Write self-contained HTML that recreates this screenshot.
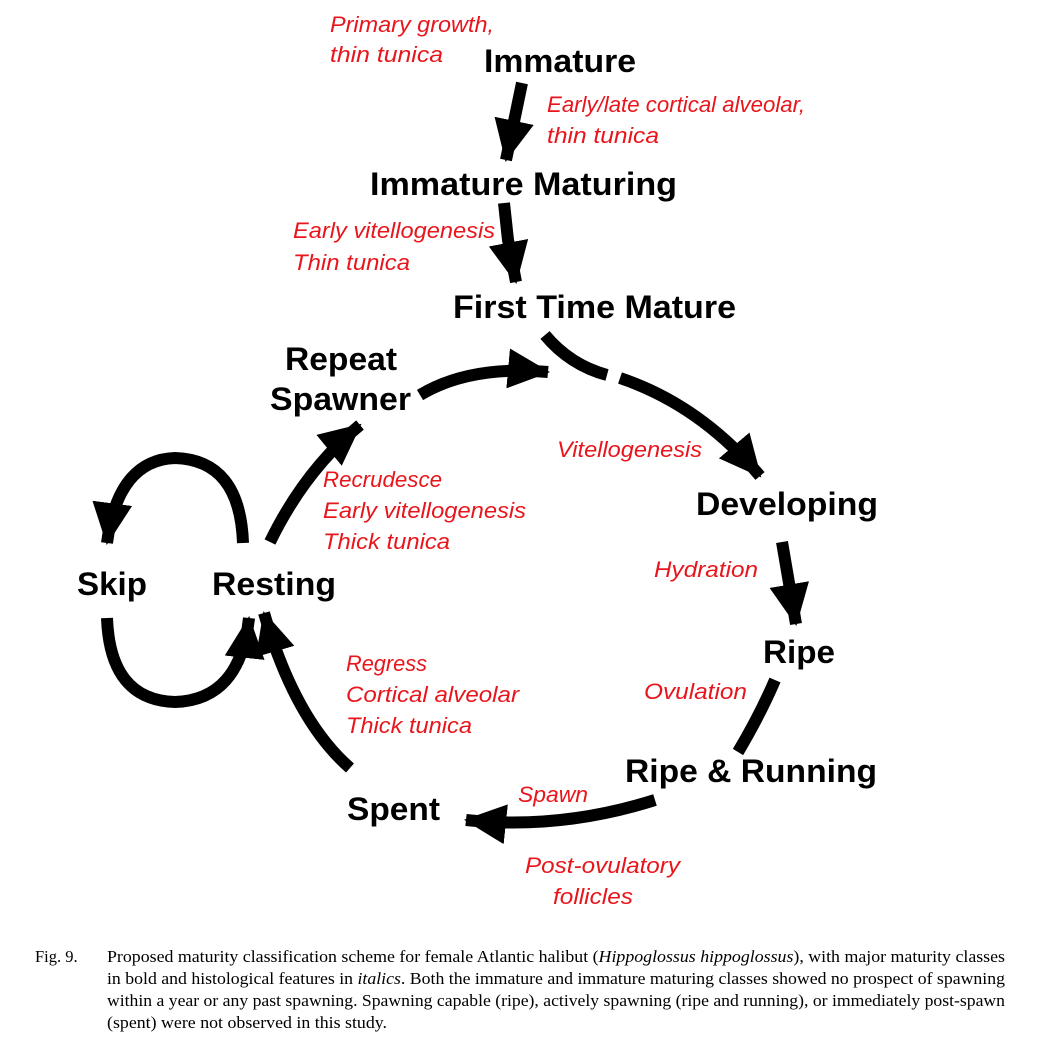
<!DOCTYPE html>
<html><head><meta charset="utf-8"><style>
html,body{margin:0;padding:0;background:#fff;}
svg{display:block;}
.b{font-family:"Liberation Sans",Arial,sans-serif;font-weight:bold;font-size:32px;fill:#000;}
.r{font-family:"Liberation Sans",Arial,sans-serif;font-style:italic;font-size:22px;fill:#e8161c;}
.c{font-family:"Liberation Serif","Times New Roman",serif;font-size:16.5px;fill:#000;}
.a{fill:none;stroke:#000;stroke-width:12;}
</style></head><body>
<svg width="1039" height="1048" viewBox="0 0 1039 1048" xmlns="http://www.w3.org/2000/svg">
<defs>
<marker id="h" markerUnits="userSpaceOnUse" viewBox="0 0 42 40" markerWidth="42" markerHeight="40" refX="40" refY="20" orient="auto">
<path d="M0,0 L42,20 L0,40 Z" fill="#000"/>
</marker>
</defs>
<path class="a" d="M522,83 L506,160" marker-end="url(#h)"/>
<path class="a" d="M504,203 L508,240 L516,282" marker-end="url(#h)"/>
<path class="a" d="M545,335 Q570,365 607,375"/>
<path class="a" d="M620,378 Q700,405 760,476" marker-end="url(#h)"/>
<path class="a" d="M782,542 L796,624" marker-end="url(#h)"/>
<path class="a" d="M775,680 Q760,715 738,752"/>
<path class="a" d="M655,800 Q560,830 466,820" marker-end="url(#h)"/>
<path class="a" d="M350,768 Q295,720 264,613" marker-end="url(#h)"/>
<path class="a" d="M270,542 Q305,470 360,425" marker-end="url(#h)"/>
<path class="a" d="M420,395 Q470,365 548,372" marker-end="url(#h)"/>
<path class="a" d="M243,543 Q240,460 175,458 Q118,460 107,543" marker-end="url(#h)"/>
<path class="a" d="M107,618 Q110,700 175,702 Q240,700 249,618" marker-end="url(#h)"/>
<text class="b" x="484" y="72" textLength="152" lengthAdjust="spacingAndGlyphs">Immature</text>
<text class="b" x="370" y="195" textLength="307" lengthAdjust="spacingAndGlyphs">Immature Maturing</text>
<text class="b" x="453" y="318" textLength="283" lengthAdjust="spacingAndGlyphs">First Time Mature</text>
<text class="b" x="285" y="370" textLength="112" lengthAdjust="spacingAndGlyphs">Repeat</text>
<text class="b" x="270" y="410" textLength="141" lengthAdjust="spacingAndGlyphs">Spawner</text>
<text class="b" x="696" y="515" textLength="182" lengthAdjust="spacingAndGlyphs">Developing</text>
<text class="b" x="77" y="595" textLength="70" lengthAdjust="spacingAndGlyphs">Skip</text>
<text class="b" x="212" y="595" textLength="124" lengthAdjust="spacingAndGlyphs">Resting</text>
<text class="b" x="763" y="663" textLength="72" lengthAdjust="spacingAndGlyphs">Ripe</text>
<text class="b" x="625" y="782" textLength="252" lengthAdjust="spacingAndGlyphs">Ripe &amp; Running</text>
<text class="b" x="347" y="820" textLength="93" lengthAdjust="spacingAndGlyphs">Spent</text>
<text class="r" x="330" y="32" textLength="164" lengthAdjust="spacingAndGlyphs">Primary growth,</text>
<text class="r" x="330" y="62" textLength="113" lengthAdjust="spacingAndGlyphs">thin tunica</text>
<text class="r" x="547" y="112" textLength="258" lengthAdjust="spacingAndGlyphs">Early/late cortical alveolar,</text>
<text class="r" x="547" y="143" textLength="112" lengthAdjust="spacingAndGlyphs">thin tunica</text>
<text class="r" x="293" y="238" textLength="202" lengthAdjust="spacingAndGlyphs">Early vitellogenesis</text>
<text class="r" x="293" y="270" textLength="117" lengthAdjust="spacingAndGlyphs">Thin tunica</text>
<text class="r" x="557" y="457" textLength="145" lengthAdjust="spacingAndGlyphs">Vitellogenesis</text>
<text class="r" x="323" y="487" textLength="119" lengthAdjust="spacingAndGlyphs">Recrudesce</text>
<text class="r" x="323" y="518" textLength="203" lengthAdjust="spacingAndGlyphs">Early vitellogenesis</text>
<text class="r" x="323" y="549" textLength="127" lengthAdjust="spacingAndGlyphs">Thick tunica</text>
<text class="r" x="654" y="577" textLength="104" lengthAdjust="spacingAndGlyphs">Hydration</text>
<text class="r" x="346" y="671" textLength="81" lengthAdjust="spacingAndGlyphs">Regress</text>
<text class="r" x="346" y="702" textLength="173" lengthAdjust="spacingAndGlyphs">Cortical alveolar</text>
<text class="r" x="346" y="733" textLength="126" lengthAdjust="spacingAndGlyphs">Thick tunica</text>
<text class="r" x="644" y="699" textLength="103" lengthAdjust="spacingAndGlyphs">Ovulation</text>
<text class="r" x="518" y="802" textLength="70" lengthAdjust="spacingAndGlyphs">Spawn</text>
<text class="r" x="525" y="873" textLength="155" lengthAdjust="spacingAndGlyphs">Post-ovulatory</text>
<text class="r" x="553" y="904" textLength="80" lengthAdjust="spacingAndGlyphs">follicles</text>
<text class="c" x="35" y="962">Fig. 9.</text>
<text class="c" x="107" y="962" textLength="898" lengthAdjust="spacingAndGlyphs">Proposed maturity classification scheme for female Atlantic halibut (<tspan font-style="italic">Hippoglossus hippoglossus</tspan>), with major maturity classes</text>
<text class="c" x="107" y="984" textLength="898" lengthAdjust="spacingAndGlyphs">in bold and histological features in <tspan font-style="italic">italics</tspan>. Both the immature and immature maturing classes showed no prospect of spawning</text>
<text class="c" x="107" y="1006" textLength="898" lengthAdjust="spacingAndGlyphs">within a year or any past spawning. Spawning capable (ripe), actively spawning (ripe and running), or immediately post-spawn</text>
<text class="c" x="107" y="1028" textLength="280" lengthAdjust="spacingAndGlyphs">(spent) were not observed in this study.</text>
</svg>
</body></html>
